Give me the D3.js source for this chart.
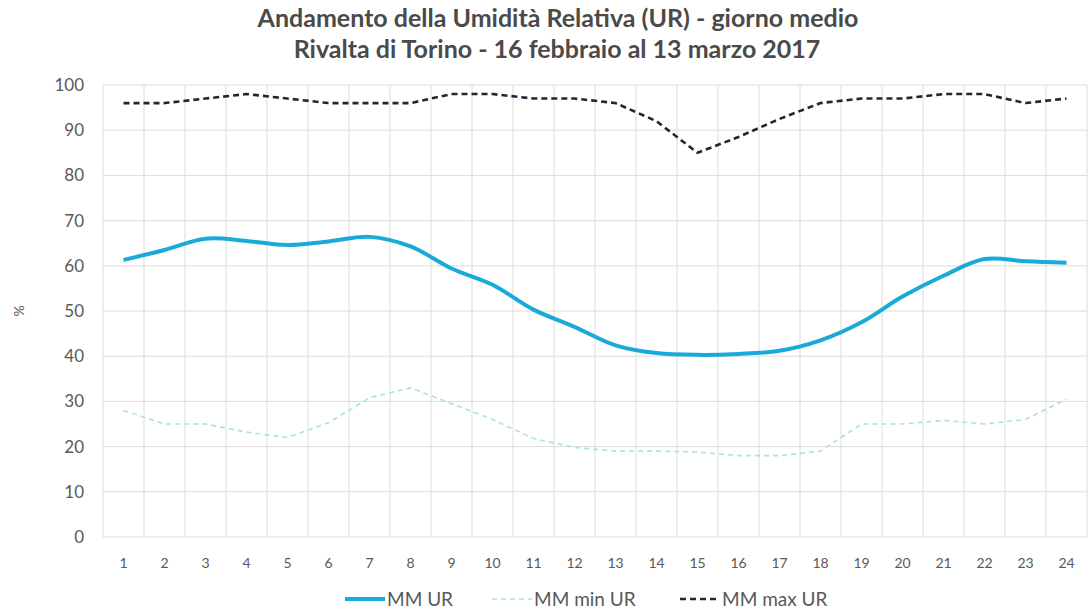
<!DOCTYPE html>
<html>
<head>
<meta charset="utf-8">
<script src="https://cdn.jsdelivr.net/npm/d3@7"></script>
<style>
  body { margin: 0; background: #fff; }
  svg { display: block; font-family: Lato, "Open Sans", sans-serif; }
</style>
</head>
<body>
<svg id="chart" width="1089" height="612"></svg>
<script>
// hours of the average day
const hours = d3.range(1, 25);
const mmUR    = [61.3, 63.5, 66, 65.5, 64.6, 65.4, 66.4, 64.3, 59.4, 55.8, 50.3, 46.5, 42.4, 40.7, 40.3, 40.5, 41.2, 43.5, 47.5, 53.2, 57.8, 61.5, 61, 60.7];
const mmMinUR = [28, 25, 25, 23.2, 22, 25.3, 30.8, 33, 29.5, 26, 21.8, 19.8, 19, 19, 18.8, 18, 18, 19, 25, 25, 25.8, 25, 26, 30.5];
const mmMaxUR = [96, 96, 97, 98, 97, 96, 96, 96, 98, 98, 97, 97, 96, 92, 85, 88.5, 92.5, 96, 97, 97, 98, 98, 96, 97];
const yTicks = d3.range(0, 101, 10);

const series = [
    { name: "MM UR", values: mmUR, color: "#1aaad8", width: 4, dash: null, curve: d3.curveCatmullRom },
    { name: "MM min UR", values: mmMinUR, color: "#a9e1ec", width: 1.6, dash: "5,4", curve: d3.curveLinear },
    { name: "MM max UR", values: mmMaxUR, color: "#1e2835", width: 2.6, dash: "6,4", curve: d3.curveLinear }
];

const svg = d3.select("#chart");
const margin = { top: 85, right: 0, bottom: 75, left: 103 };
const width = 1089 - margin.left - margin.right;
const height = 612 - margin.top - margin.bottom;

const x = d3.scaleBand().domain(hours).range([0, width - 2]);
const y = d3.scaleLinear().domain([0, 100]).range([height, 0]);

const g = svg.append("g").attr("transform", `translate(${margin.left},${margin.top})`);

// gridlines
g.append("g")
    .selectAll("line")
    .data(yTicks)
    .join("line")
    .attr("x1", 0).attr("x2", x.range()[1])
    .attr("y1", d => y(d)).attr("y2", d => y(d))
    .attr("stroke", "#dcdcdc").attr("stroke-width", 1);

g.append("g")
    .selectAll("line")
    .data(hours.concat([25]))
    .join("line")
    .attr("x1", d => d === 25 ? x.range()[1] : x(d))
    .attr("x2", d => d === 25 ? x.range()[1] : x(d))
    .attr("y1", 0).attr("y2", height)
    .attr("stroke", "#dcdcdc").attr("stroke-width", 1);

// axes labels
g.append("g")
    .selectAll("text")
    .data(yTicks)
    .join("text")
    .attr("x", -19)
    .attr("y", d => y(d))
    .attr("dy", "0.35em")
    .attr("text-anchor", "end")
    .attr("fill", "#595959")
    .style("font-size", "17px")
    .text(d => d);

g.append("g")
    .selectAll("text")
    .data(hours)
    .join("text")
    .attr("x", d => x(d) + x.bandwidth() / 2)
    .attr("y", height + 31)
    .attr("text-anchor", "middle")
    .attr("fill", "#595959")
    .style("font-size", "14px")
    .text(d => d);

svg.append("text")
    .attr("transform", `translate(19,${margin.top + y(50)}) rotate(-90)`)
    .attr("text-anchor", "middle")
    .attr("dy", "0.35em")
    .attr("fill", "#595959")
    .style("font-size", "14px")
    .text("%");

// lines
series.forEach(s => {
    const line = d3.line()
        .x((d, i) => x(hours[i]) + x.bandwidth() / 2)
        .y(d => y(d))
        .curve(s.curve);
    g.append("path")
        .datum(s.values)
        .attr("d", line)
        .attr("fill", "none")
        .attr("stroke", s.color)
        .attr("stroke-width", s.width)
        .attr("stroke-dasharray", s.dash)
        .attr("stroke-linejoin", "round");
});

// title
const title = svg.append("text")
    .attr("text-anchor", "middle")
    .attr("fill", "#4a4a4a")
    .style("font-size", "25px")
    .style("font-weight", "bold");
title.append("tspan").attr("x", 558).attr("y", 27).text("Andamento della Umidità Relativa (UR) - giorno medio");
title.append("tspan").attr("x", 557).attr("y", 58).text("Rivalta di Torino - 16 febbraio al 13 marzo 2017");

// legend
const legendX = [345, 492, 680];
const legend = svg.append("g");
series.forEach((s, i) => {
    const lg = legend.append("g").attr("transform", `translate(${legendX[i]},599)`);
    lg.append("line")
        .attr("x1", 0).attr("x2", 40)
        .attr("stroke", s.color)
        .attr("stroke-width", s.width)
        .attr("stroke-dasharray", s.dash);
    lg.append("text")
        .attr("x", 42)
        .attr("dy", "0.35em")
        .attr("fill", "#595959")
        .style("font-size", "19px")
        .text(s.name);
});
</script>
</body>
</html>
